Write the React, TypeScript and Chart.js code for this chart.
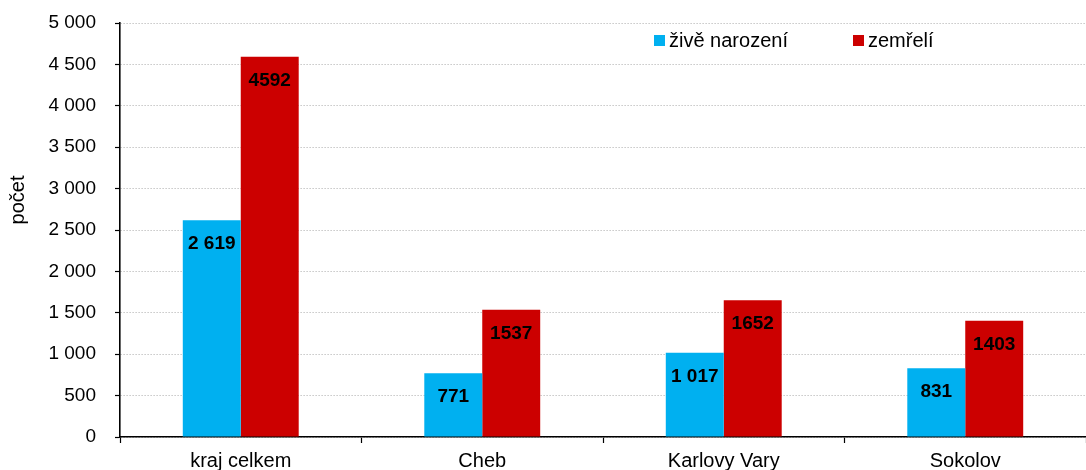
import React, { useEffect, useRef } from "react";
import { Chart, registerables } from "chart.js";

Chart.register(...registerables);

const categories = ["kraj celkem", "Cheb", "Karlovy Vary", "Sokolov"];
const seriesNames = ["živě narození", "zemřelí"];
const births = [2619, 771, 1017, 831];
const deaths = [4592, 1537, 1652, 1403];
const yTicks = [0, 500, 1000, 1500, 2000, 2500, 3000, 3500, 4000, 4500, 5000];
const yTitle = "počet";
const colors = ["#00B0F0", "#CC0000"];

const FONT = "'Liberation Sans', Arial, sans-serif";

const fmt = (v: number) => String(v).replace(/\B(?=(\d{3})+(?!\d))/g, " ");

export default function App() {
  const ref = useRef<HTMLCanvasElement | null>(null);
  useEffect(() => {
    document.body.style.margin = "0";
    const ctx = ref.current!;
    const labelPlugin = {
      id: "labels",
      afterDatasetsDraw(chart: any) {
        const c = chart.ctx;
        c.save();
        c.font = `bold 19px ${FONT}`;
        c.fillStyle = "#000";
        c.textAlign = "center";
        c.textBaseline = "middle";
        chart.data.datasets.forEach((ds: any, di: number) => {
          const meta = chart.getDatasetMeta(di);
          meta.data.forEach((bar: any, i: number) => {
            const v = ds.data[i];
            const txt = di === 0 ? fmt(v) : String(v);
            c.fillText(txt, bar.x, bar.y + 24);
          });
        });
        // legend
        c.font = `20px ${FONT}`;
        c.textAlign = "left";
        const lx = [654, 853];
        seriesNames.forEach((n, i) => {
          c.fillStyle = colors[i];
          c.fillRect(lx[i], 35, 11, 11);
          c.fillStyle = "#000";
          c.fillText(n, lx[i] + 15, 41);
        });
        // y title
        c.save();
        c.translate(18, 200);
        c.rotate(-Math.PI / 2);
        c.textAlign = "center";
        c.font = `20px ${FONT}`;
        c.fillText(yTitle, 0, 0);
        c.restore();
        c.restore();
      },
    };
    const chart = new Chart(ctx, {
      type: "bar",
      data: {
        labels: categories,
        datasets: [
          { label: seriesNames[0], data: births, backgroundColor: colors[0], categoryPercentage: 0.48, barPercentage: 1 },
          { label: seriesNames[1], data: deaths, backgroundColor: colors[1], categoryPercentage: 0.48, barPercentage: 1 },
        ],
      },
      options: {
        animation: false,
        responsive: false,
        maintainAspectRatio: false,
        layout: { padding: { top: 23, right: 0, left: 0, bottom: 0 } },
        plugins: { legend: { display: false }, tooltip: { enabled: false } },
        scales: {
          x: {
            offset: true,
            grid: { offset: true, drawOnChartArea: false, drawTicks: true, tickLength: 6, tickColor: "#000", tickWidth: 1.2 },
            border: { color: "#000", width: 1.6 },
            ticks: { color: "#000", font: { family: FONT, size: 20 }, padding: 6, maxRotation: 0 },
            afterFit: (s: any) => { s.height = 33; },
          },
          y: {
            min: 0,
            max: 5000,
            afterBuildTicks: (s: any) => { s.ticks = yTicks.map((v) => ({ value: v })); },
            grid: { color: "#ababab", tickColor: "#000", tickLength: 5, tickWidth: 1.2, tickBorderDash: [] } as any,
            border: { color: "#000", width: 1.6, dash: [1, 2] } as any,
            ticks: { color: "#000", font: { family: FONT, size: 19 }, padding: 19, callback: (v: any) => fmt(Number(v)) },
            afterFit: (s: any) => { s.width = 120; s.paddingTop = 0; },
          },
        },
      },
      plugins: [labelPlugin],
    } as any);
    return () => chart.destroy();
  }, []);
  return (
    <div style={{ position: "fixed", left: 0, top: 0, width: 1086, height: 470, background: "#fff" }}>
      <canvas ref={ref} width={1086} height={470} style={{ width: 1086, height: 470 }} />
    </div>
  );
}
